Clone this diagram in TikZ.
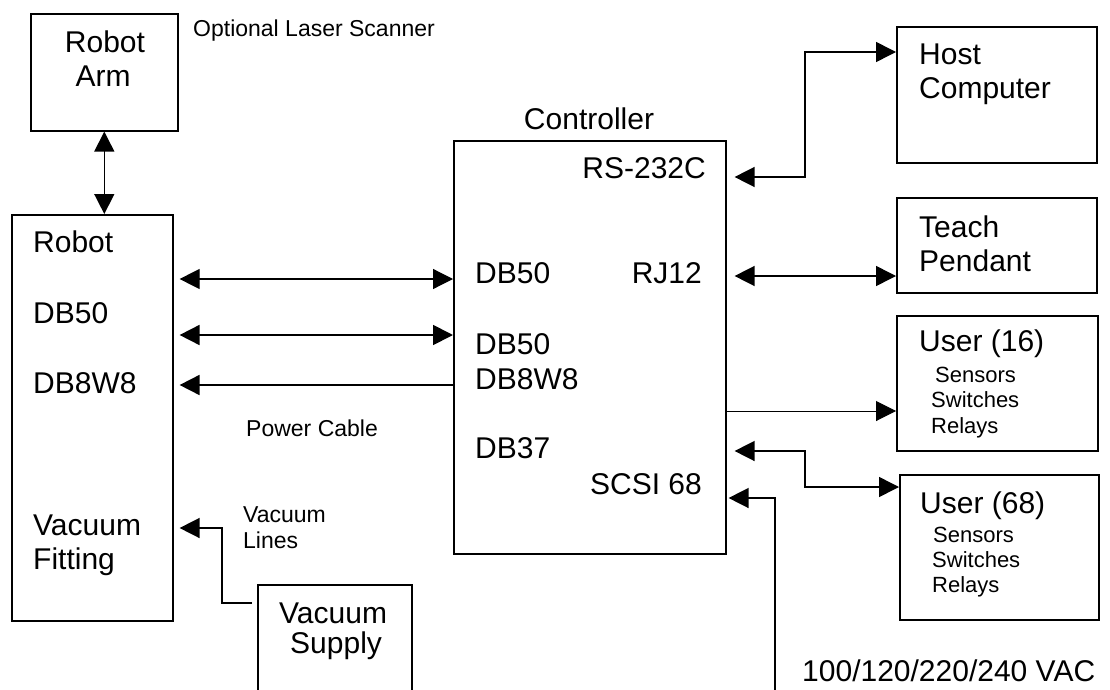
\documentclass[tikz,border=0pt]{standalone}
\usepackage{fontspec}
\setmainfont{Liberation Sans}
\usetikzlibrary{arrows.meta}
\tikzset{
  blk/.style={draw, line width=1.6pt, inner sep=0pt, anchor=north west},
  bigtxt/.style={font=\fontsize{30}{36}\selectfont, inner sep=0pt},
  smalltxt/.style={font=\fontsize{23}{28}\selectfont, inner sep=0pt},
  midtxt/.style={font=\fontsize{22}{26}\selectfont, inner sep=0pt},
  link/.style={line width=1.5pt},
  oneway/.style={link, -{Triangle[length=20pt,width=20pt]}},
  twoway/.style={link, {Triangle[length=20pt,width=20pt]}-{Triangle[length=20pt,width=20pt]}}
}
\begin{document}
\begin{tikzpicture}[x=1pt, y=-1pt]
        \useasboundingbox (0,0) rectangle (1110,690);
        \node[blk, minimum width=147pt, minimum height=117pt] (arm) at (30,13) {};
        \node[blk, minimum width=161pt, minimum height=406pt] (robot) at (11,214) {};
        \node[blk, minimum width=154pt, minimum height=120pt] (supply) at (257,584) {};
        \node[blk, minimum width=272pt, minimum height=413pt] (ctrl) at (453,140) {};
        \node[blk, minimum width=200pt, minimum height=136pt] (host) at (896,26) {};
        \node[blk, minimum width=200pt, minimum height=95pt] (teach) at (896,197) {};
        \node[blk, minimum width=201pt, minimum height=135pt] (user16) at (896,315) {};
        \node[blk, minimum width=199pt, minimum height=145pt] (user68) at (899,474) {};
        \node[bigtxt, anchor=base] (armA) at (105,53) {Robot};
        \node[bigtxt, anchor=base] (armB) at (103,87) {Arm};
        \node[smalltxt, anchor=base west] (laser) at (193,37) {Optional Laser Scanner};
        \foreach \t/\y [count=\i] in {Robot/252, DB50/323, DB8W8/393, Vacuum/535, Fitting/569}{
            \node[bigtxt, anchor=base west] (rb\i) at (33,\y) {\t};
        }
        \node[smalltxt, anchor=base west] (power) at (246,436) {Power Cable};
        \node[smalltxt, anchor=base west] (vlA) at (243,522) {Vacuum};
        \node[smalltxt, anchor=base west] (vlB) at (243,548) {Lines};
        \node[bigtxt, anchor=base west] (vsA) at (279,623) {Vacuum};
        \node[bigtxt, anchor=base west] (vsB) at (290,653) {Supply};
        \node[bigtxt, anchor=base] (ctrltitle) at (589,129) {Controller};
        \foreach \t/\y [count=\i] in {DB50/283, DB50/354, DB8W8/389, DB37/458}{
            \node[bigtxt, anchor=base west] (cl\i) at (475,\y) {\t};
        }
        \node[bigtxt, anchor=base east] (rs) at (706,178) {RS-232C};
        \node[bigtxt, anchor=base east] (rj) at (702,283) {RJ12};
        \node[bigtxt, anchor=base east] (scsi) at (702,494) {SCSI 68};
        \node[bigtxt, anchor=base west] (hostA) at (919,65) {Host};
        \node[bigtxt, anchor=base west] (hostB) at (919,99) {Computer};
        \node[bigtxt, anchor=base west] (teachA) at (919,237) {Teach};
        \node[bigtxt, anchor=base west] (teachB) at (919,271) {Pendant};
        \node[bigtxt, anchor=base west] (uA) at (919,351) {User (16)};
        \node[bigtxt, anchor=base west] (uB) at (920,513) {User (68)};
        \foreach \t/\x/\y/\n in {Sensors/935/382/a, Switches/931/407/b, Relays/931/433/c, Sensors/933/542/d, Switches/932/567/e, Relays/932/592/f}{
            \node[midtxt, anchor=base west] (io\n) at (\x,\y) {\t};
        }
        \node[bigtxt, anchor=base west] (vac) at (802,681) {100/120/220/240 VAC};
        \coordinate (r1) at (0,279);
        \coordinate (r2) at (0,335);
        \coordinate (r3) at (0,385);
        \coordinate (vs) at (0,603);
        \coordinate (vk) at (222,528);
        \coordinate (h1) at (0,177);
        \coordinate (hk) at (805,52);
        \coordinate (t1) at (0,276);
        \coordinate (u1) at (0,411);
        \coordinate (u2) at (0,451);
        \coordinate (uk) at (805,487);
        \coordinate (p1) at (0,498);
        \coordinate (ac) at (775,700);
        \draw[twoway] (arm.south) -- (arm.south |- robot.north);
        \draw[twoway, line width=1.2pt] ([xshift=6pt]robot.east |- r1) -- (ctrl.west |- r1);
        \draw[twoway, line width=1.8pt] ([xshift=6pt]robot.east |- r2) -- (ctrl.west |- r2);
        \draw[oneway, line width=1.8pt] (ctrl.west |- r3) -- ([xshift=6pt]robot.east |- r3);
        \draw[oneway] ([xshift=-5pt]supply.west |- vs) -| (vk) -- ([xshift=6pt]robot.east |- vk);
        \draw[twoway] ([xshift=8pt]ctrl.east |- h1) -| (hk) -- (host.west |- hk);
        \draw[twoway] ([xshift=8pt]ctrl.east |- t1) -- (teach.west |- t1);
        \draw[oneway, line width=1pt] (ctrl.east |- u1) -- (user16.west |- u1);
        \draw[twoway] ([xshift=8pt]ctrl.east |- u2) -| (uk) -- (user68.west |- uk);
        \draw[oneway] (ac) |- ([xshift=2pt]ctrl.east |- p1);
    \end{tikzpicture}
\end{document}
